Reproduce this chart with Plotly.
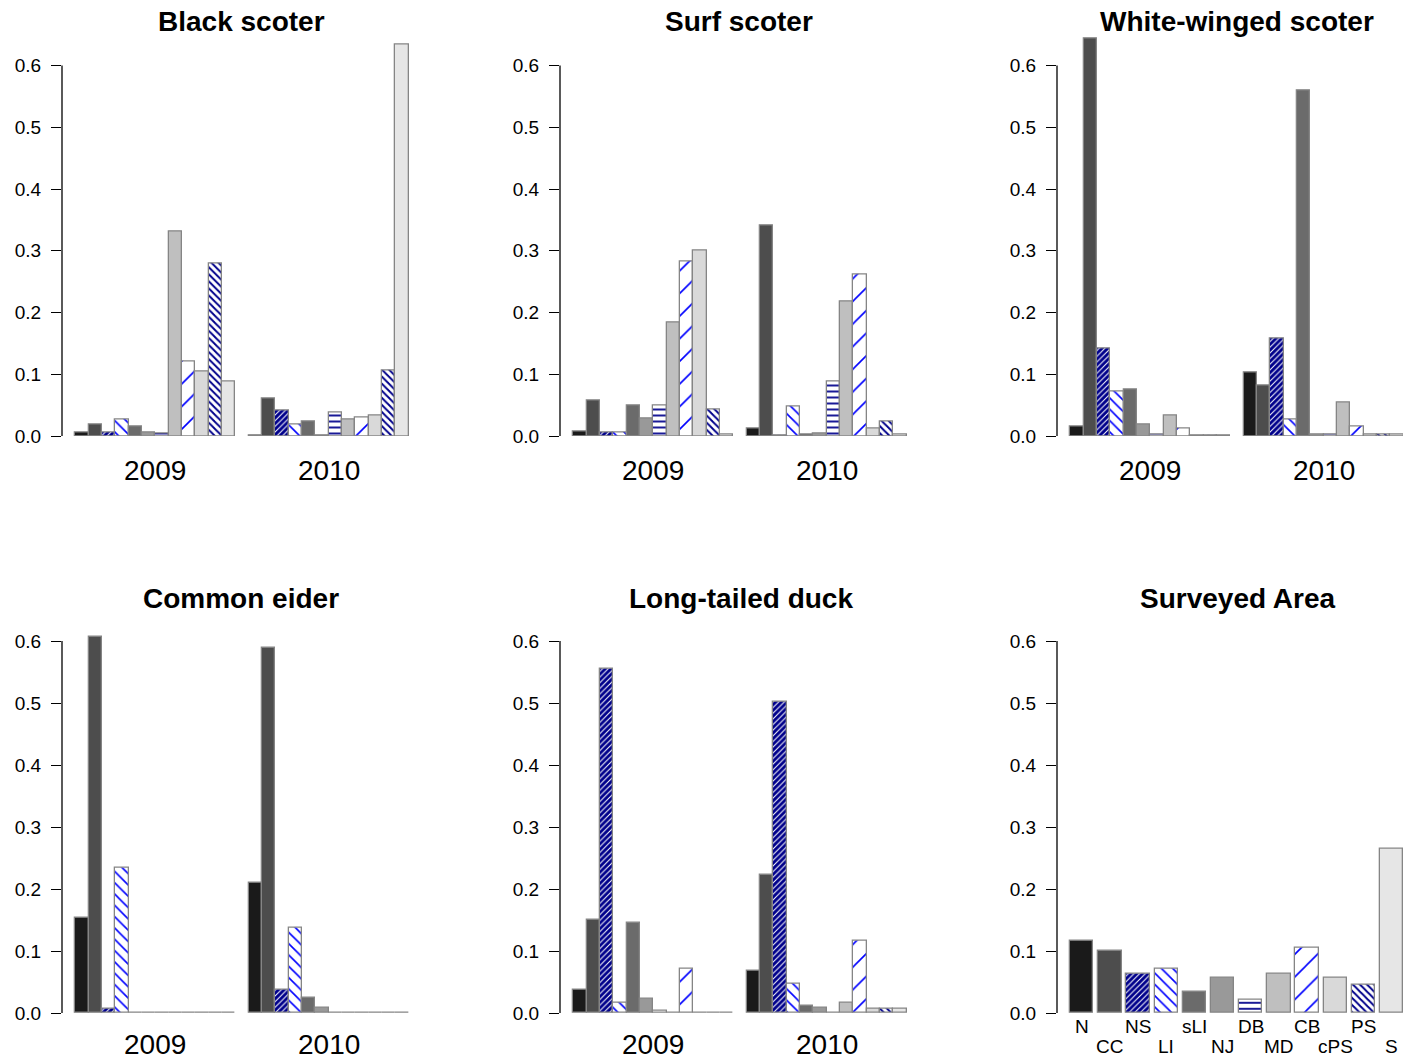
import plotly.graph_objects as go
from plotly.subplots import make_subplots

# ---------------- data ----------------
categories = ["N", "CC", "NS", "LI", "sLI", "NJ", "DB", "MD", "CB", "cPS", "PS", "S"]
years = ["2009", "2010"]
panel_titles = ["Black scoter", "Surf scoter", "White-winged scoter",
                "Common eider", "Long-tailed duck", "Surveyed Area"]
y_ticks = [0.0, 0.1, 0.2, 0.3, 0.4, 0.5, 0.6]
y_tick_labels = ["0.0", "0.1", "0.2", "0.3", "0.4", "0.5", "0.6"]

black_scoter_2009 = [0.006, 0.018, 0.005, 0.026, 0.015, 0.005, 0.004, 0.331, 0.120, 0.104, 0.279, 0.088]
black_scoter_2010 = [0.0005, 0.061, 0.041, 0.018, 0.024, 0.0005, 0.038, 0.027, 0.030, 0.033, 0.106, 0.634]

surf_scoter_2009 = [0.007, 0.058, 0.005, 0.005, 0.050, 0.029, 0.050, 0.184, 0.282, 0.301, 0.043, 0.002]
surf_scoter_2010 = [0.012, 0.341, 0.001, 0.047, 0.002, 0.004, 0.089, 0.218, 0.261, 0.012, 0.024, 0.002]

white_winged_2009 = [0.015, 0.644, 0.141, 0.072, 0.076, 0.018, 0.003, 0.033, 0.012, 0.001, 0.001, 0.001]
white_winged_2010 = [0.103, 0.081, 0.158, 0.027, 0.559, 0.002, 0.002, 0.055, 0.015, 0.002, 0.002, 0.003]

common_eider_2009 = [0.154, 0.607, 0.006, 0.234, 0.0005, 0.0005, 0.0005, 0.0005, 0.001, 0.0005, 0.001, 0.0005]
common_eider_2010 = [0.210, 0.589, 0.038, 0.137, 0.024, 0.008, 0.0005, 0.0005, 0.001, 0.0005, 0.001, 0.0005]

long_tailed_2009 = [0.037, 0.151, 0.555, 0.016, 0.146, 0.023, 0.004, 0.0005, 0.072, 0.0005, 0.001, 0.0005]
long_tailed_2010 = [0.068, 0.223, 0.502, 0.047, 0.012, 0.009, 0.0005, 0.016, 0.117, 0.006, 0.006, 0.006]

surveyed_area = [0.117, 0.100, 0.063, 0.072, 0.034, 0.057, 0.022, 0.063, 0.105, 0.057, 0.045, 0.265]

species_data = [
    (black_scoter_2009, black_scoter_2010),
    (surf_scoter_2009, surf_scoter_2010),
    (white_winged_2009, white_winged_2010),
    (common_eider_2009, common_eider_2010),
    (long_tailed_2009, long_tailed_2010),
]

# ---------------- styles ----------------
DB_ = "#00008B"
BL = "#0000FF"
styles = {
    "N":   dict(color="#1a1a1a"),
    "CC":  dict(color="#4d4d4d"),
    "NS":  dict(color=DB_, pattern=dict(shape="/", fgcolor="white", bgcolor=DB_, size=4, solidity=0.25, fillmode="replace")),
    "LI":  dict(color="white", pattern=dict(shape="\\", fgcolor=BL, bgcolor="white", size=8, solidity=0.2, fillmode="replace")),
    "sLI": dict(color="#6b6b6b"),
    "NJ":  dict(color="#999999"),
    "DB":  dict(color="white", pattern=dict(shape="-", fgcolor=DB_, bgcolor="white", size=6, solidity=0.3, fillmode="replace")),
    "MD":  dict(color="#bfbfbf"),
    "CB":  dict(color="white", pattern=dict(shape="/", fgcolor=BL, bgcolor="white", size=16, solidity=0.1, fillmode="replace")),
    "cPS": dict(color="#d9d9d9"),
    "PS":  dict(color="white", pattern=dict(shape="\\", fgcolor=DB_, bgcolor="white", size=5, solidity=0.4, fillmode="replace")),
    "S":   dict(color="#e6e6e6"),
}
BORDER = dict(color="#858585", width=1.3)

W, H = 1403, 1059
fig = make_subplots(rows=2, cols=3)

def px_x(a, b):
    return [a / W, b / W]

x_domains = [px_x(62, 422), px_x(560, 920), px_x(1057, 1403)]
top_dom = [(H - 436) / H, (H - 28.5) / H]
bot_dom = [(H - 1013) / H, (H - 603.8) / H]
unit = 360 / 27.0

# species panels
for p, (v09, v10) in enumerate(species_data):
    row = p // 3 + 1
    col = p % 3 + 1
    for k, cat in enumerate(categories):
        st = styles[cat]
        marker = dict(color=st["color"], line=BORDER)
        if "pattern" in st:
            marker["pattern"] = st["pattern"]
        fig.add_trace(go.Bar(x=[1.5 + k, 14.5 + k], y=[v09[k], v10[k]], width=1,
                             marker=marker, showlegend=False, hoverinfo="skip"),
                      row=row, col=col)

# surveyed area panel
for k, cat in enumerate(categories):
    st = styles[cat]
    marker = dict(color=st["color"], line=BORDER)
    if "pattern" in st:
        marker["pattern"] = st["pattern"]
    fig.add_trace(go.Bar(x=[0.7 + 1.2 * k], y=[surveyed_area[k]], width=1,
                         marker=marker, showlegend=False, hoverinfo="skip"),
                  row=2, col=3)

font_family = "Liberation Sans, Arial, Helvetica, sans-serif"

for i in range(1, 7):
    row = (i - 1) // 3 + 1
    col = (i - 1) % 3 + 1
    xd = x_domains[col - 1]
    yd = top_dom if row == 1 else bot_dom
    if i == 6:
        xr = [-0.354, -0.354 + 346 / (360 / 15.336)]
    elif col == 3:
        xr = [0, 346 / unit]
    else:
        xr = [0, 27]
    xname = "xaxis" if i == 1 else f"xaxis{i}"
    yname = "yaxis" if i == 1 else f"yaxis{i}"
    fig.update_layout({
        xname: dict(domain=xd, range=xr, visible=False, showgrid=False, zeroline=False,
                    fixedrange=True, automargin=False),
        yname: dict(domain=yd, range=[0, 0.66], showgrid=False, zeroline=False, showline=False,
                    tickvals=y_ticks, ticktext=y_tick_labels, ticks="outside", ticklen=10,
                    tickwidth=1.3, tickcolor="black", ticklabelstandoff=6, automargin=False,
                    tickfont=dict(size=19, color="black", family=font_family), fixedrange=True),
    })
    xref = "x" if i == 1 else f"x{i}"
    yref = "y" if i == 1 else f"y{i}"
    fig.add_shape(type="line", xref=f"{xref} domain", yref=yref, x0=0, x1=0, y0=0, y1=0.6,
                  line=dict(color="black", width=1.3))

# titles
title_x = [241, 739, 1237, 241, 741, 1237]
title_y = [22, 22, 22, 598, 598, 598]
for t, tx, ty in zip(panel_titles, title_x, title_y):
    fig.add_annotation(text=f"<b>{t}</b>", x=tx / W, y=1 - ty / H, xref="paper", yref="paper",
                       showarrow=False, xanchor="center", yanchor="middle", borderpad=0,
                       font=dict(size=28, color="black", family=font_family))

# year labels
for i in range(1, 6):
    row = (i - 1) // 3 + 1
    xref = "x" if i == 1 else f"x{i}"
    ypx = 471 if row == 1 else 1044
    for j, yr in enumerate(years):
        fig.add_annotation(text=yr, x=7 + 13 * j, y=1 - ypx / H, xref=xref, yref="paper",
                           showarrow=False, xanchor="center", yanchor="middle", borderpad=0,
                           font=dict(size=28, color="black", family=font_family))

# surveyed area category labels (staggered)
for k, cat in enumerate(categories):
    ypx = 1026 if k % 2 == 0 else 1046
    fig.add_annotation(text=cat, x=0.7 + 1.2 * k, y=1 - ypx / H, xref="x6", yref="paper",
                       showarrow=False, xanchor="center", yanchor="middle", borderpad=0,
                       font=dict(size=19, color="black", family=font_family))

fig.update_layout(template="none", width=W, height=H, autosize=False,
                  margin=dict(l=0, r=0, t=0, b=0, pad=0),
                  paper_bgcolor="white", plot_bgcolor="white", barmode="overlay",
                  bargap=0, showlegend=False, font=dict(family=font_family))

fig.write_html("out.html", config={"displayModeBar": False})
